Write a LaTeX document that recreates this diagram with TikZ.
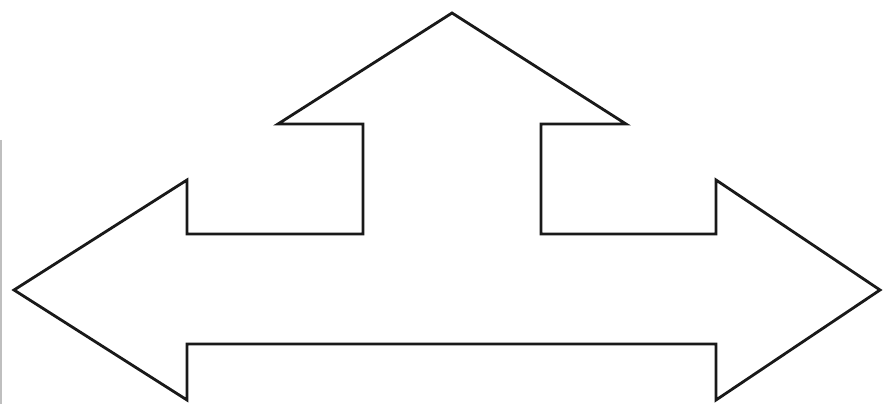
\documentclass[tikz,border=0pt]{standalone}
\usepackage{tikz}

\begin{document}
\begin{tikzpicture}[x=0.02cm, y=-0.02cm, outline/.style = {draw=black!90, line width=1.6pt, line join=miter, fill=white}, edge/.style = {draw=gray!50, line width=0.8pt}]

    % 1. Ramka obrazu
    \useasboundingbox (0,0) rectangle (885,404);

    % 2. Punkty konturu strzalki
    \coordinate (tipL) at (14,290);
    \coordinate (barbLU) at (187,180);
    \coordinate (shaftLU) at (187,234);
    \coordinate (stemL) at (363,234);
    \coordinate (neckL) at (363,124);
    \coordinate (barbUL) at (278,124);
    \coordinate (apex) at (452,13);
    \coordinate (barbUR) at (626,124);
    \coordinate (neckR) at (541,124);
    \coordinate (stemR) at (541,234);
    \coordinate (shaftRU) at (716,234);
    \coordinate (barbRU) at (716,180);
    \coordinate (tipR) at (880,290);
    \coordinate (barbRD) at (716,400);
    \coordinate (shaftRD) at (716,344);
    \coordinate (shaftLD) at (187,344);
    \coordinate (barbLD) at (187,400);

    % 3. Kontur
    \draw[outline] (tipL) -- (barbLU) -- (shaftLU) -- (stemL) -- (neckL) -- (barbUL) -- (apex) -- (barbUR) -- (neckR) -- (stemR) -- (shaftRU) -- (barbRU) -- (tipR) -- (barbRD) -- (shaftRD) -- (shaftLD) -- (barbLD) -- cycle;

    % 4. Szara krawedz z lewej
    \coordinate (edgeT) at (1,140);
    \coordinate (edgeB) at (1,404);
    \draw[edge] (edgeT) -- (edgeB);
\end{tikzpicture}
\end{document}
